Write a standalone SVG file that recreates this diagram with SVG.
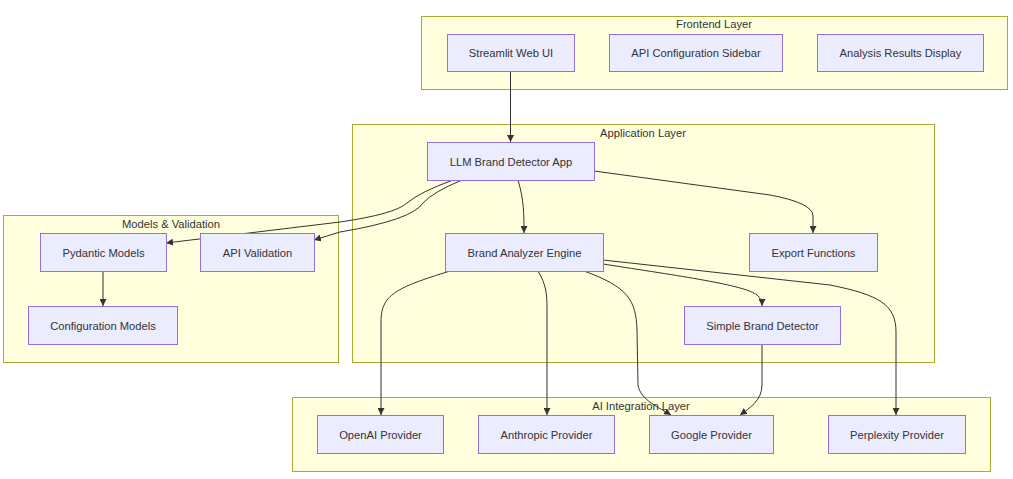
<svg xmlns="http://www.w3.org/2000/svg" width="1013" height="479" viewBox="0 0 1013 479">
<style>
.cluster{fill:#ffffde;stroke:#aaaa33;stroke-width:1}
.node{fill:#ECECFF;stroke:#9370DB;stroke-width:1}
.lbl{font-family:"Liberation Sans",Arial,sans-serif;font-size:11.2px;fill:#333;text-anchor:middle;dominant-baseline:central}
.edge{fill:none;stroke:#333;stroke-width:1;marker-end:url(#arrow)}
</style>
<defs>
<marker id="arrow" viewBox="0 0 10 10" refX="10" refY="5" markerWidth="7" markerHeight="7" markerUnits="userSpaceOnUse" orient="auto">
<path d="M0,0 L10,5 L0,10 z" fill="#333"/>
</marker>
</defs>
<rect width="1013" height="479" fill="#fff"/>
<g id="clusters">
<g id="frontend-layer"><rect class="cluster" x="421.5" y="16.5" width="586" height="73"/><text class="lbl" x="714" y="24">Frontend Layer</text></g>
<g id="application-layer"><rect class="cluster" x="352.5" y="124.5" width="582" height="238"/><text class="lbl" x="643" y="133">Application Layer</text></g>
<g id="models-validation"><rect class="cluster" x="3.5" y="215.5" width="335" height="147"/><text class="lbl" x="171" y="224">Models &amp; Validation</text></g>
<g id="ai-integration-layer"><rect class="cluster" x="292.5" y="397.5" width="698" height="74"/><text class="lbl" x="641" y="406">AI Integration Layer</text></g>
</g>
<g id="connectors">
<path class="edge" d="M510.5,71 L510.5,142"/>
<path class="edge" d="M453,180 Q420,192 407,203 Q395,214 340,222 L166,243"/>
<path class="edge" d="M462,180 Q433,192 423,203 Q412,220 340,232 L314,240"/>
<path class="edge" d="M518,180 C524,200 524,215 524,233"/>
<path class="edge" d="M594,171 L770,195 Q813,203 813,216 L813,233"/>
<path class="edge" d="M450,271 C395,288 381,295 381,322 L381,415"/>
<path class="edge" d="M538,271 C546,285 547,292 547,310 L547,415"/>
<path class="edge" d="M584,271 C628,287 636,300 637,330 L638,385 C640,400 660,408 671,415"/>
<path class="edge" d="M762,344 L762,385 C762,400 750,408 740,415"/>
<path class="edge" d="M603,264 C680,276 745,285 757,295 Q762,299 762,306"/>
<path class="edge" d="M603,260 L830,285 C880,295 896,305 896,332 L896,415"/>
<path class="edge" d="M103,271 L103,306"/>
</g>
<g id="streamlit-web-ui"><rect class="node" x="447.5" y="34.5" width="127" height="37"/><text class="lbl" x="511" y="53">Streamlit Web UI</text></g>
<g id="api-configuration-sidebar"><rect class="node" x="609.5" y="34.5" width="173" height="37"/><text class="lbl" x="696" y="53">API Configuration Sidebar</text></g>
<g id="analysis-results-display"><rect class="node" x="817.5" y="34.5" width="166" height="37"/><text class="lbl" x="900.5" y="53">Analysis Results Display</text></g>
<g id="llm-brand-detector-app"><rect class="node" x="427.5" y="142.5" width="167" height="38"/><text class="lbl" x="511" y="161.5">LLM Brand Detector App</text></g>
<g id="brand-analyzer-engine"><rect class="node" x="445.5" y="233.5" width="158" height="38"/><text class="lbl" x="524.5" y="252.5">Brand Analyzer Engine</text></g>
<g id="export-functions"><rect class="node" x="749.5" y="233.5" width="128" height="38"/><text class="lbl" x="813.5" y="252.5">Export Functions</text></g>
<g id="simple-brand-detector"><rect class="node" x="684.5" y="306.5" width="156" height="38"/><text class="lbl" x="762.5" y="325.5">Simple Brand Detector</text></g>
<g id="pydantic-models"><rect class="node" x="40.5" y="233.5" width="126" height="38"/><text class="lbl" x="103.5" y="252.5">Pydantic Models</text></g>
<g id="api-validation"><rect class="node" x="200.5" y="233.5" width="114" height="38"/><text class="lbl" x="257.5" y="252.5">API Validation</text></g>
<g id="configuration-models"><rect class="node" x="28.5" y="306.5" width="149" height="38"/><text class="lbl" x="103" y="325.5">Configuration Models</text></g>
<g id="openai-provider"><rect class="node" x="317.5" y="415.5" width="126" height="38"/><text class="lbl" x="380.5" y="434.5">OpenAI Provider</text></g>
<g id="anthropic-provider"><rect class="node" x="478.5" y="415.5" width="136" height="38"/><text class="lbl" x="546.5" y="434.5">Anthropic Provider</text></g>
<g id="google-provider"><rect class="node" x="649.5" y="415.5" width="124" height="38"/><text class="lbl" x="711.5" y="434.5">Google Provider</text></g>
<g id="perplexity-provider"><rect class="node" x="828.5" y="415.5" width="137" height="38"/><text class="lbl" x="897" y="434.5">Perplexity Provider</text></g>
</svg>
